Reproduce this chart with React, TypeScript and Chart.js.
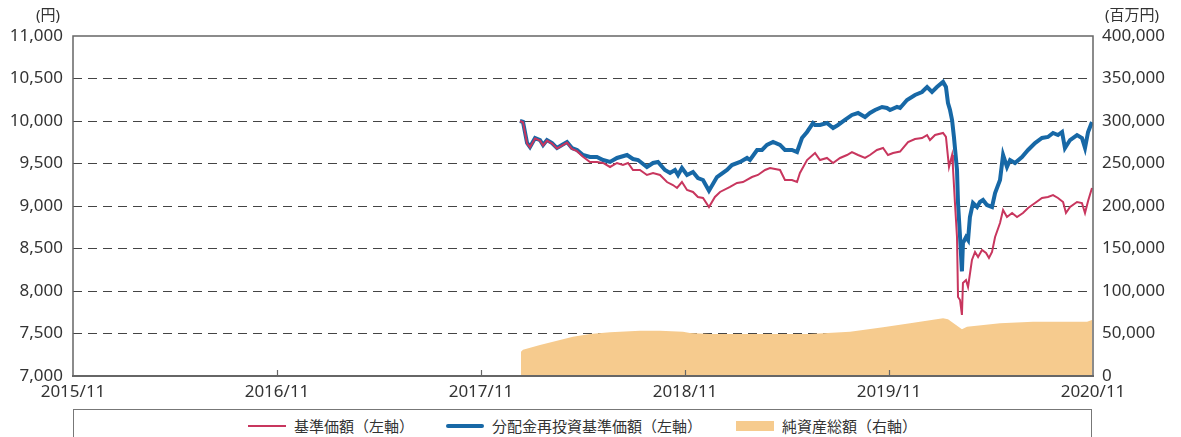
import React, { useEffect, useRef } from 'react';
import { Chart, registerables } from 'chart.js';

Chart.register(...registerables);

// x positions are months elapsed since 2015/11
const xTickMonths = [0, 12, 24, 36, 48, 60];
const xTickLabels = ['2015/11', '2016/11', '2017/11', '2018/11', '2019/11', '2020/11'];

// 基準価額（左軸）
const navMonths = [
  26.29, 26.47, 26.71, 26.88, 27.18, 27.47, 27.65, 27.88, 28.18, 28.47, 28.76, 29.06, 29.35, 29.65,
  30.0, 30.41, 30.82, 31.18, 31.59, 32.0, 32.35, 32.65, 32.94, 33.35, 33.76, 34.12, 34.53, 34.94,
  35.29, 35.53, 35.82, 36.12, 36.47, 36.76, 37.06, 37.41, 37.76, 38.06, 38.65, 39.06, 39.41, 39.94,
  40.29, 40.71, 41.0, 41.59, 41.88, 42.29, 42.59, 42.76, 43.18, 43.65, 43.94, 44.35, 44.71, 45.12,
  45.53, 45.82, 46.18, 46.59, 46.88, 47.29, 47.65, 47.94, 48.24, 48.65, 49.12, 49.53, 49.94, 50.24,
  50.41, 50.71, 51.18, 51.35, 51.47, 51.53, 51.71, 51.76, 51.88, 52.0, 52.06, 52.18, 52.29, 52.35,
  52.53, 52.65, 52.88, 53.06, 53.24, 53.47, 53.71, 53.88, 54.06, 54.24, 54.53, 54.71, 54.94, 55.24,
  55.53, 55.88, 56.18, 56.59, 57.0, 57.35, 57.65, 57.94, 58.24, 58.41, 58.65, 59.06, 59.35, 59.53,
  59.71, 59.94,
];
const navValues = [
  10000, 9985, 9735, 9690, 9795, 9770, 9712, 9770, 9735, 9676, 9710, 9745, 9672, 9645,
  9580, 9518, 9518, 9506, 9459, 9506, 9482, 9506, 9424, 9424, 9365, 9388, 9365, 9282,
  9247, 9212, 9282, 9188, 9165, 9106, 9094, 8988, 9106, 9165, 9224, 9271, 9282, 9341,
  9365, 9424, 9447, 9424, 9306, 9306, 9282, 9388, 9541, 9624, 9541, 9565, 9506, 9565,
  9600, 9635, 9600, 9565, 9600, 9659, 9682, 9600, 9624, 9640, 9753, 9788, 9800, 9835,
  9776, 9835, 9859, 9812, 9576, 9459, 9600, 9459, 9035, 8635, 7929, 7894, 7718, 8094,
  8129, 8047, 8365, 8459, 8400, 8482, 8447, 8388, 8459, 8635, 8800, 8953, 8871, 8918,
  8871, 8918, 8976, 9035, 9094, 9106, 9129, 9094, 9047, 8918, 8988, 9047, 9035, 8918,
  9059, 9212,
];

// 分配金再投資基準価額（左軸）
const reinvMonths = [
  26.29, 26.47, 26.71, 26.88, 27.18, 27.47, 27.65, 27.88, 28.18, 28.47, 28.76, 29.06, 29.35, 29.65,
  30.0, 30.41, 30.82, 31.18, 31.59, 32.0, 32.59, 32.94, 33.24, 33.76, 34.12, 34.41, 34.82, 35.12,
  35.41, 35.59, 35.82, 36.12, 36.47, 36.76, 37.06, 37.41, 37.88, 38.47, 38.76, 39.24, 39.65, 39.82,
  40.24, 40.53, 40.82, 41.18, 41.59, 41.88, 42.29, 42.59, 42.88, 43.18, 43.53, 43.65, 43.94, 44.35,
  44.71, 45.0, 45.41, 45.82, 46.18, 46.59, 46.88, 47.18, 47.59, 47.88, 48.06, 48.47, 48.65, 49.06,
  49.53, 49.94, 50.24, 50.53, 50.82, 51.18, 51.35, 51.47, 51.59, 51.71, 51.82, 52.0, 52.06, 52.18,
  52.29, 52.35, 52.53, 52.65, 52.76, 52.94, 53.18, 53.35, 53.53, 53.76, 54.06, 54.24, 54.53, 54.71,
  54.94, 55.12, 55.41, 55.82, 56.18, 56.59, 57.0, 57.35, 57.65, 57.94, 58.18, 58.35, 58.65, 59.06,
  59.35, 59.53, 59.71, 59.94,
];
const reinvValues = [
  10000, 9990, 9741, 9694, 9800, 9776, 9718, 9776, 9741, 9682, 9718, 9753, 9682, 9659,
  9600, 9576, 9576, 9541, 9518, 9565, 9600, 9553, 9541, 9459, 9506, 9518, 9424, 9388,
  9424, 9365, 9447, 9365, 9400, 9329, 9306, 9180, 9341, 9424, 9482, 9518, 9565, 9541,
  9659, 9659, 9718, 9753, 9718, 9659, 9659, 9635, 9800, 9871, 9976, 9953, 9953, 9976,
  9918, 9953, 10012, 10071, 10094, 10047, 10094, 10129, 10165, 10153, 10129, 10165, 10153, 10247,
  10306, 10341, 10400, 10341, 10400, 10460, 10400, 10212, 10129, 10012, 9812, 9424, 9035, 8635,
  8230, 8565, 8635, 8600, 8871, 9035, 8988, 9047, 9071, 9012, 8988, 9153, 9306, 9600,
  9459, 9541, 9506, 9576, 9659, 9741, 9800, 9812, 9859, 9835, 9871, 9682, 9776, 9835,
  9800, 9682, 9871, 9988,
];

// 純資産総額（右軸・百万円）
const assetMonths = [
  26.35, 26.47, 27.47, 29.41, 30.41, 31.59, 33.35, 34.53, 35.88, 36.29, 37.47, 39.41, 41.41, 43.35,
  45.71, 47.65, 49.24, 51.18, 51.47, 52.29, 52.59, 54.53, 56.47, 58.47, 59.65, 59.94,
];
const assetValues = [
  28600, 31000, 36500, 46200, 49400, 51400, 53300, 53300, 52100, 50500, 49400, 49400, 49400, 49400,
  52100, 57300, 62000, 67900, 66700, 55000, 58000, 62000, 63900, 63900, 63900, 65900,
];

const RED = '#C8365E';
const BLUE = '#1768A6';
const ORANGE = '#F6CB8E';
const TEXT = '#333333';
const FONT = '"Noto Sans", "Noto Sans CJK JP", sans-serif';

const toPoints = (xs: number[], ys: number[]) => xs.map((x, i) => ({ x, y: ys[i] }));

const framePlugin = {
  id: 'frame',
  afterDatasetsDraw(chart: any) {
    const { ctx, chartArea } = chart;
    const { left, right, top, bottom } = chartArea;
    ctx.save();
    // inner tick marks on x axis
    ctx.strokeStyle = '#666';
    ctx.lineWidth = 1.2;
    const xs = chart.scales.x;
    xTickMonths.forEach((m, i) => {
      if (i === 0 || i === xTickMonths.length - 1) return;
      const px = Math.round(xs.getPixelForValue(m)) + 0.5;
      ctx.beginPath();
      ctx.moveTo(px, bottom);
      ctx.lineTo(px, bottom - 6);
      ctx.stroke();
    });
    // frame
    ctx.strokeStyle = '#666';
    ctx.lineWidth = 1.5;
    ctx.beginPath();
    ctx.moveTo(left, bottom);
    ctx.lineTo(left, top);
    ctx.lineTo(right, top);
    ctx.lineTo(right, bottom);
    ctx.stroke();
    ctx.lineWidth = 2;
    ctx.beginPath();
    ctx.moveTo(left - 1, bottom);
    ctx.lineTo(right + 1, bottom);
    ctx.stroke();
    // unit labels
    ctx.fillStyle = TEXT;
    ctx.font = `15px ${FONT}`;
    ctx.textAlign = 'center';
    ctx.textBaseline = 'middle';
    ctx.fillText('(円)', 48, 16);
    ctx.fillText('(百万円)', 1132, 16);
    ctx.restore();
  },
};

export default function App() {
  const canvasRef = useRef<HTMLCanvasElement | null>(null);

  useEffect(() => {
    document.body.style.margin = '0';
    const canvas = canvasRef.current;
    if (!canvas) return;
    const chart = new Chart(canvas, {
      type: 'line',
      data: {
        datasets: [
          {
            label: '基準価額（左軸）',
            data: toPoints(navMonths, navValues),
            borderColor: RED,
            borderWidth: 2,
            pointRadius: 0,
            tension: 0,
            fill: false,
            yAxisID: 'y',
            order: 0,
          },
          {
            label: '分配金再投資基準価額（左軸）',
            data: toPoints(reinvMonths, reinvValues),
            borderColor: BLUE,
            borderWidth: 4,
            pointRadius: 0,
            tension: 0,
            fill: false,
            yAxisID: 'y',
            order: 1,
          },
          {
            label: '純資産総額（右軸）',
            data: toPoints(assetMonths, assetValues),
            borderColor: ORANGE,
            borderWidth: 0,
            backgroundColor: ORANGE,
            pointRadius: 0,
            tension: 0,
            fill: 'origin',
            yAxisID: 'y2',
            order: 2,
          },
        ],
      },
      options: {
        responsive: false,
        animation: false,
        events: [],
        layout: { padding: { top: 36, left: 0, right: 0, bottom: 0 } },
        plugins: {
          legend: { display: false },
          tooltip: { enabled: false },
        },
        scales: {
          x: {
            type: 'linear',
            min: 0,
            max: 60,
            afterBuildTicks: (scale: any) => {
              scale.ticks = xTickMonths.map((v) => ({ value: v }));
            },
            afterFit: (scale: any) => {
              scale.height = 405 - 376;
            },
            ticks: {
              autoSkip: false,
              maxRotation: 0,
              padding: 6,
              color: TEXT,
              font: { family: FONT, size: 17 },
              callback: (value: any) => {
                const i = xTickMonths.indexOf(Number(value));
                return i >= 0 ? xTickLabels[i] : '';
              },
            },
            grid: { display: false, drawTicks: false },
            border: { display: false },
          },
          y: {
            type: 'linear',
            position: 'left',
            min: 7000,
            max: 11000,
            afterFit: (scale: any) => {
              scale.width = 73;
            },
            ticks: {
              stepSize: 500,
              padding: 10,
              color: TEXT,
              font: { family: FONT, size: 17 },
              callback: (value: any) => Number(value).toLocaleString('en-US'),
            },
            grid: {
              drawTicks: false,
              lineWidth: 1,
              color: (c: any) =>
                c.tick && (c.tick.value === 7000 || c.tick.value === 11000) ? 'rgba(0,0,0,0)' : '#444',
            },
            border: { display: false, dash: [9, 6] },
          },
          y2: {
            type: 'linear',
            position: 'right',
            min: 0,
            max: 400000,
            afterFit: (scale: any) => {
              scale.width = 1181 - 1093;
            },
            ticks: {
              stepSize: 50000,
              padding: 9,
              color: TEXT,
              font: { family: FONT, size: 17 },
              callback: (value: any) => Number(value).toLocaleString('en-US'),
            },
            grid: { display: false, drawTicks: false },
            border: { display: false },
          },
        },
      },
      plugins: [framePlugin],
    });
    return () => chart.destroy();
  }, []);

  const itemText: React.CSSProperties = {
    fontFamily: '"Noto Sans CJK JP", sans-serif',
    fontSize: 15,
    color: TEXT,
    lineHeight: '20px',
    whiteSpace: 'nowrap',
  };

  return (
    <div style={{ position: 'relative', width: 1181, height: 437, overflow: 'hidden', background: '#fff' }}>
      <canvas ref={canvasRef} width={1181} height={405} style={{ display: 'block' }} />
      <div
        style={{
          position: 'absolute',
          left: 73,
          top: 409,
          width: 1019,
          height: 40,
          border: '1px solid #777',
          display: 'flex',
          justifyContent: 'center',
          alignItems: 'flex-start',
          paddingTop: 6,
          boxSizing: 'border-box',
        }}
      >
        <div style={{ display: 'flex', alignItems: 'center', marginRight: 32 }}>
          <span style={{ display: 'inline-block', width: 38, height: 2, background: RED, marginRight: 8 }} />
          <span style={itemText}>基準価額（左軸）</span>
        </div>
        <div style={{ display: 'flex', alignItems: 'center', marginRight: 34 }}>
          <span style={{ display: 'inline-block', width: 38, height: 4, background: BLUE, marginRight: 8, borderRadius: 2 }} />
          <span style={itemText}>分配金再投資基準価額（左軸）</span>
        </div>
        <div style={{ display: 'flex', alignItems: 'center' }}>
          <span style={{ display: 'inline-block', width: 38, height: 10, background: ORANGE, marginRight: 8 }} />
          <span style={itemText}>純資産総額（右軸）</span>
        </div>
      </div>
    </div>
  );
}
